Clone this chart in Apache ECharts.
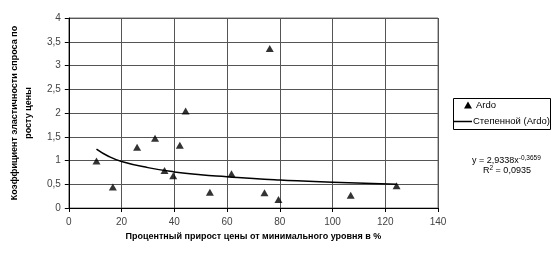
<!DOCTYPE html>
<html>
<head>
  <meta charset="utf-8">
  <script src="https://cdn.jsdelivr.net/npm/echarts@6/dist/echarts.min.js"></script>
  <style>
    html, body { margin: 0; padding: 0; background: #fff; }
  </style>
</head>
<body>
  <div id="main" style="width: 557px; height: 257px;"></div>
  <script>
    // точки Ardo
    var ardoX = [10.5, 16.7, 25.9, 32.7, 36.3, 39.6, 42.1, 44.3, 53.5, 61.7, 74.2, 76.2, 79.5, 106.9, 124.3];
    var ardoY = [0.99, 0.44, 1.28, 1.47, 0.79, 0.68, 1.32, 2.04, 0.33, 0.72, 0.32, 3.36, 0.18, 0.27, 0.47];
    // степенная линия тренда, тоже
    var trendX = [10.5, 15, 20, 30, 40, 50, 60, 70, 80, 100, 124.3];
    var trendY = [1.24, 1.09, 0.98, 0.85, 0.76, 0.70, 0.66, 0.62, 0.59, 0.54, 0.50];

    var seriesNames = ['Ardo', 'Степенной (Ardo)'];
    var eqText = ['y = 2,9338x', '-0,3659'];
    var r2Text = ['R', '2', ' = 0,0935'];

    var font = 'Liberation Sans, Arial, sans-serif';
    var chart = echarts.init(document.getElementById('main'));

    var ardo = ardoX.map(function (x, i) { return [x, ardoY[i]]; });
    var trend = trendX.map(function (x, i) { return [x, trendY[i]]; });

    function comma(v) { return String(v).replace('.', ','); }

    var richSup = {
      a: { fontSize: 9, fontFamily: font, fill: '#000', lineHeight: 11 },
      s: { fontSize: 6.5, fontFamily: font, fill: '#000', lineHeight: 11, verticalAlign: 'top', padding: [0, 0, 5, 0] }
    };

    chart.setOption({
      animation: false,
      textStyle: { fontFamily: font },
      grid: { left: 60, right: 119, top: 18, bottom: 49, show: true, borderColor: '#777', borderWidth: 1 },
      xAxis: {
        type: 'value', min: 0, max: 140, interval: 20,
        name: 'Процентный прирост цены от минимального уровня в %',
        nameLocation: 'middle', nameGap: 24,
        nameTextStyle: { fontSize: 9, fontWeight: 'bold', color: '#000' },
        axisLine: { lineStyle: { color: '#000' } },
        axisTick: { show: true, length: 4, lineStyle: { color: '#000' } },
        axisLabel: { fontSize: 10, color: '#444', margin: 9, formatter: comma },
        splitLine: { lineStyle: { color: '#555', width: 1 } }
      },
      yAxis: {
        type: 'value', min: 0, max: 4, interval: 0.5,
        name: 'Коэффициент эластичности спроса по\nросту цены',
        nameLocation: 'middle', nameGap: 15, nameRotate: 90,
        nameTextStyle: { fontSize: 9, fontWeight: 'bold', color: '#000', lineHeight: 14 },
        axisLine: { show: true, lineStyle: { color: '#000' } },
        axisTick: { show: true, length: 4, lineStyle: { color: '#000' } },
        axisLabel: { fontSize: 10, color: '#444', margin: 8, formatter: comma },
        splitLine: { lineStyle: { color: '#555', width: 1 } }
      },
      series: [
        {
          name: seriesNames[0], type: 'scatter', data: ardo,
          symbol: 'triangle', symbolSize: [8, 7],
          itemStyle: { color: '#000' }
        },
        {
          name: seriesNames[1], type: 'line', data: trend,
          smooth: true, symbol: 'none',
          lineStyle: { color: '#000', width: 1.5 },
          z: 1
        }
      ],
      graphic: [
        // легенда
        {
          type: 'rect', shape: { x: 453.5, y: 98.5, width: 97, height: 31 },
          style: { fill: '#fff', stroke: '#000', lineWidth: 1 }
        },
        {
          type: 'polygon', shape: { points: [[464, 108.5], [472, 108.5], [468, 101.5]] },
          style: { fill: '#000' }
        },
        {
          type: 'text', x: 476, y: 105,
          style: { text: seriesNames[0], fontSize: 9.5, fontFamily: font, fill: '#000', verticalAlign: 'middle' }
        },
        {
          type: 'line', shape: { x1: 453.5, y1: 121.5, x2: 472, y2: 121.5 },
          style: { stroke: '#000', lineWidth: 1.5 }
        },
        {
          type: 'text', x: 473, y: 121.5,
          style: { text: seriesNames[1], fontSize: 9.5, fontFamily: font, fill: '#000', verticalAlign: 'middle' }
        },
        // уравнение тренда
        {
          type: 'text', x: 472, y: 155,
          style: { text: '{a|' + eqText[0] + '}{s|' + eqText[1] + '}', rich: richSup }
        },
        {
          type: 'text', x: 483, y: 165,
          style: { text: '{a|' + r2Text[0] + '}{s|' + r2Text[1] + '}{a|' + r2Text[2] + '}', rich: richSup }
        }
      ]
    });
  </script>
</body>
</html>
